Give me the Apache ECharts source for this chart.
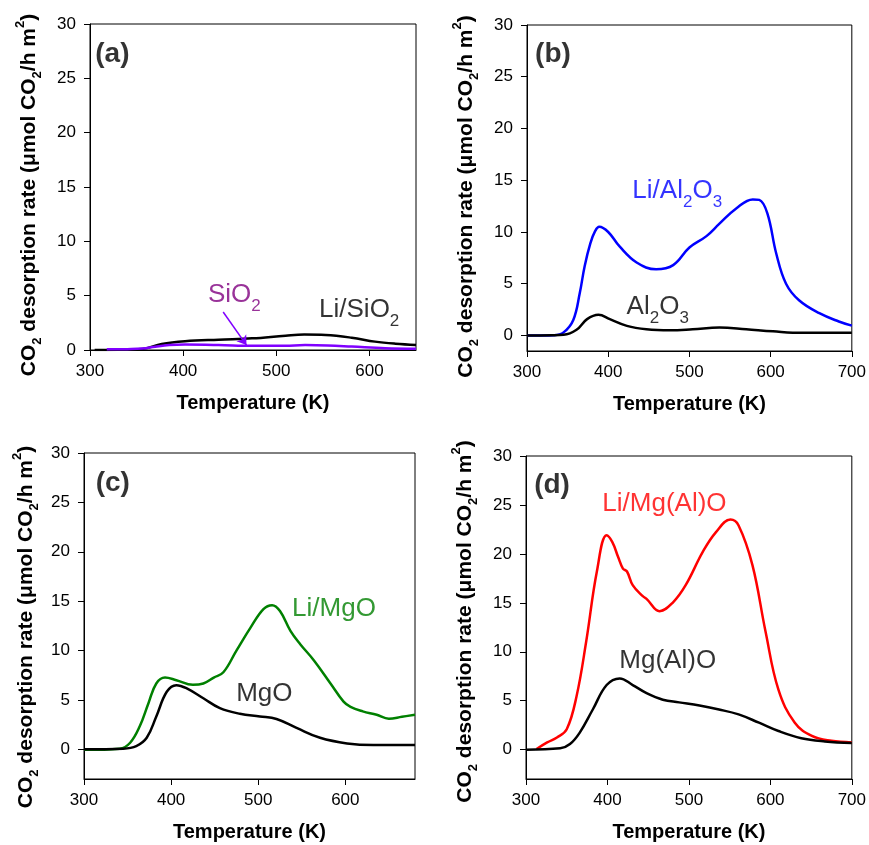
<!DOCTYPE html>
<html>
<head>
<meta charset="utf-8">
<script src="https://cdn.jsdelivr.net/npm/echarts@6/dist/echarts.min.js"></script>
<style>
  html, body { margin: 0; padding: 0; background: #fff; }
  #chart { width: 869px; height: 845px; }
</style>
</head>
<body>
<div id="chart"></div>
<script>
// tick labels
var yTicks = [0, 5, 10, 15, 20, 25, 30];
var xTicksA = [300, 400, 500, 600];
var xTicksB = [300, 400, 500, 600, 700];

// (a) [T (K), rate]
var liSiO2 = [[305, 0], [330, 0.02], [356, 0.1], [377, 0.55], [402, 0.8], [438, 0.95], [474, 1.07], [510, 1.32], [530, 1.42], [553, 1.38], [581, 1.13], [606, 0.77], [628, 0.58], [650, 0.47]];
var siO2 = [[318, 0.06], [340, 0.08], [356, 0.13], [370, 0.3], [385, 0.45], [402, 0.5], [438, 0.46], [474, 0.38], [510, 0.4], [531, 0.45], [555, 0.42], [581, 0.32], [617, 0.17], [650, 0.12]];

// (b)
var liAl2O3 = [[300, 0], [320, 0], [333, 0.03], [345, 0.3], [357, 1.5], [365, 4.1], [371, 6.7], [378, 8.9], [384, 10.1], [389, 10.5], [400, 10.0], [414, 8.6], [435, 7.05], [459, 6.4], [480, 6.8], [500, 8.5], [521, 9.6], [537, 10.8], [558, 12.3], [578, 13.15], [586, 13.1], [596, 11.8], [607, 7.9], [619, 5.0], [635, 3.4], [660, 2.15], [684, 1.35], [700, 0.95]];
var al2O3 = [[300, 0], [330, 0.02], [345, 0.06], [361, 0.55], [374, 1.58], [388, 2.0], [402, 1.58], [423, 0.93], [447, 0.6], [476, 0.5], [504, 0.6], [537, 0.77], [570, 0.6], [603, 0.4], [639, 0.26], [700, 0.26]];

// (c)
var liMgO = [[300, -0.05], [341, 0.07], [353, 0.67], [364, 2.33], [374, 4.67], [383, 6.67], [393, 7.27], [406, 7.0], [425, 6.53], [437, 6.67], [449, 7.27], [460, 7.8], [475, 10.0], [491, 12.3], [506, 14.2], [516, 14.6], [525, 14.0], [537, 12.0], [548, 10.67], [564, 9.0], [583, 6.67], [598, 4.83], [606, 4.3], [620, 3.85], [636, 3.5], [650, 3.1], [665, 3.3], [680, 3.5]];
var mgO = [[300, 0], [345, 0.07], [360, 0.33], [372, 1.17], [383, 3.33], [395, 5.83], [406, 6.5], [418, 6.17], [437, 5.17], [456, 4.17], [479, 3.6], [502, 3.33], [521, 3.07], [544, 2.17], [571, 1.17], [602, 0.6], [632, 0.43], [680, 0.43]];

// (d)
var liMgAlO = [[313, 0.07], [326, 0.74], [338, 1.24], [350, 2.08], [362, 5.43], [374, 11.1], [387, 18.2], [399, 21.9], [406, 21.2], [413, 19.7], [419, 18.5], [424, 18.2], [431, 16.8], [443, 15.7], [448, 15.4], [464, 14.15], [480, 15.0], [496, 16.8], [517, 20.2], [533, 22.2], [551, 23.5], [561, 22.9], [578, 18.85], [594, 12.1], [610, 6.1], [630, 2.75], [651, 1.4], [675, 0.9], [700, 0.74]];
var mgAlO = [[300, 0], [342, 0.13], [354, 0.57], [366, 1.74], [382, 4.1], [399, 6.6], [415, 7.28], [431, 6.6], [448, 5.77], [468, 5.1], [488, 4.83], [513, 4.5], [537, 4.1], [561, 3.6], [586, 2.75], [610, 1.9], [638, 1.17], [667, 0.84], [700, 0.67]];

var FONT = '"Liberation Sans", Arial, sans-serif';

var yName = '{t|CO}{s|2}{t| desorption rate (μmol CO}{s|2}{t|/h m}{p|2}{t|)}';
function yNameStyle(shift) {
  return {
    fontFamily: FONT, fontWeight: 'bold', fontSize: 21, color: '#000',
    padding: [0, shift, 0, 0],
    rich: {
      t: { fontFamily: FONT, fontWeight: 'bold', fontSize: 21, lineHeight: 30, verticalAlign: 'middle', color: '#000' },
      s: { fontFamily: FONT, fontWeight: 'bold', fontSize: 13, lineHeight: 10, verticalAlign: 'bottom', color: '#000' },
      p: { fontFamily: FONT, fontWeight: 'bold', fontSize: 13, lineHeight: 10, verticalAlign: 'top', color: '#000' }
    }
  };
}
function labelRich(color) {
  return {
    m: { fontFamily: FONT, fontSize: 26, lineHeight: 40, verticalAlign: 'middle', color: color },
    sb: { fontFamily: FONT, fontSize: 17, lineHeight: 14, verticalAlign: 'bottom', color: color },
    b: { fontFamily: FONT, fontSize: 28, fontWeight: 'bold', lineHeight: 40, verticalAlign: 'middle', color: color }
  };
}

var grids = [
  { left: 90, top: 24, width: 326, height: 326 },
  { left: 527, top: 25, width: 326, height: 326 },
  { left: 84, top: 453, width: 331, height: 330 },
  { left: 526, top: 456, width: 328, height: 327 }
];
var xMax = [650, 700, 680, 700];
var yMin = [0, -1.5, -3, -3];
var xTickSets = [xTicksA, xTicksB, xTicksA, xTicksB];
var yGaps = [46, 46, 43, 46];
var yShift = [16, 17, 22, 8];

function xAxis(i) {
  return {
    gridIndex: i, type: 'value', min: 300, max: xMax[i],
    axisLine: { show: true, onZero: false, lineStyle: { color: '#000', width: 1 } },
    axisTick: { show: true, length: 6, customValues: xTickSets[i], lineStyle: { color: '#000' } },
    axisLabel: { customValues: xTickSets[i], margin: 13, fontSize: 17, color: '#000', fontFamily: FONT },
    splitLine: { show: false },
    name: 'Temperature (K)', nameLocation: 'middle', nameGap: 41,
    nameTextStyle: { fontFamily: FONT, fontWeight: 'bold', fontSize: 20, color: '#000', lineHeight: 24 }
  };
}
function yAxis(i) {
  return {
    gridIndex: i, type: 'value', min: yMin[i], max: 30,
    axisLine: { show: true, onZero: false, lineStyle: { color: '#000', width: 1 } },
    axisTick: { show: true, length: 6, customValues: yTicks, lineStyle: { color: '#000' } },
    axisLabel: { customValues: yTicks, margin: 14, fontSize: 17, color: '#000', fontFamily: FONT },
    splitLine: { show: false },
    name: yName, nameLocation: 'middle', nameGap: yGaps[i], nameTextStyle: yNameStyle(yShift[i])
  };
}
function curve(i, data, color, extra) {
  var s = {
    type: 'line', xAxisIndex: i, yAxisIndex: i, data: data,
    showSymbol: false, smooth: 0.4, lineStyle: { color: color, width: 2.5 }, z: 3
  };
  if (extra) Object.assign(s, extra);
  return s;
}
function note(i, pos, text, color) {
  return {
    type: 'scatter', xAxisIndex: i, yAxisIndex: i, data: [pos], symbolSize: 0, silent: true, z: 6,
    label: { show: true, position: 'inside', formatter: text, color: color, rich: labelRich(color) }
  };
}

var chart = echarts.init(document.getElementById('chart'));
chart.setOption({
  animation: false,
  backgroundColor: '#fff',
  grid: grids.map(function (g) {
    return Object.assign({ show: true, borderColor: '#000', borderWidth: 1 }, g);
  }),
  xAxis: [0, 1, 2, 3].map(xAxis),
  yAxis: [0, 1, 2, 3].map(yAxis),
  series: [
    curve(0, liSiO2, '#000'),
    curve(0, siO2, '#8000ff', {
      markLine: {
        silent: true, symbol: ['none', 'arrow'], symbolSize: 9,
        label: { show: false },
        lineStyle: { color: '#8000ff', width: 1.5, type: 'solid' },
        data: [[{ coord: [443, 3.5] }, { coord: [468, 0.45] }]]
      }
    }),
    curve(1, liAl2O3, '#0000ff'),
    curve(1, al2O3, '#000'),
    curve(2, liMgO, '#008000'),
    curve(2, mgO, '#000'),
    curve(3, liMgAlO, '#ff0000'),
    curve(3, mgAlO, '#000'),

    note(0, [324, 27.2], '{b|(a)}', '#000'),
    note(0, [455, 5.06], '{m|SiO}{sb|2}', '#800080'),
    note(0, [589, 3.68], '{m|Li/SiO}{sb|2}', '#000'),
    note(1, [332, 27.2], '{b|(b)}', '#000'),
    note(1, [485, 14.0], '{m|Li/Al}{sb|2}{m|O}{sb|3}', '#0000ff'),
    note(1, [461, 2.8], '{m|Al}{sb|2}{m|O}{sb|3}', '#000'),
    note(2, [333, 26.9], '{b|(c)}', '#000'),
    note(2, [587, 14.25], '{m|Li/MgO}', '#008000'),
    note(2, [507, 5.58], '{m|MgO}', '#000'),
    note(3, [332, 27.0], '{b|(d)}', '#000'),
    note(3, [470, 25.1], '{m|Li/Mg(Al)O}', '#ff0000'),
    note(3, [474, 9.12], '{m|Mg(Al)O}', '#000')
  ]
});
</script>
</body>
</html>
